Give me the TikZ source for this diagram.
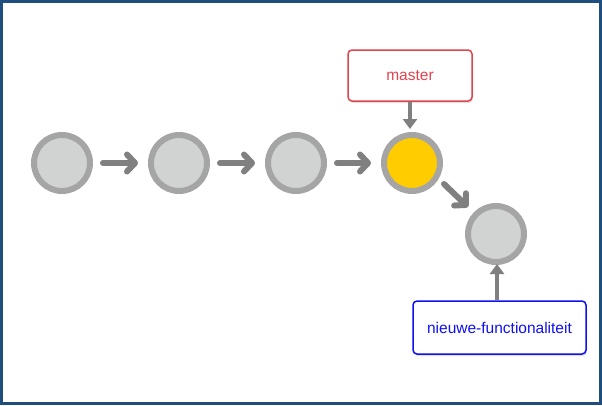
\documentclass[tikz,border=0pt]{standalone}
\usepackage{fontspec}
\setmainfont{Liberation Sans}
\usetikzlibrary{arrows.meta,shadows}
\definecolor{frame}{HTML}{1F4E7E}
\definecolor{cfill}{HTML}{D1D3D3}
\definecolor{cline}{HTML}{A5A5A5}
\definecolor{arr}{HTML}{808080}
\definecolor{gold}{HTML}{FFCC00}
\definecolor{mred}{HTML}{E0444F}
\definecolor{mblue}{HTML}{1010F0}
\begin{document}
\begin{tikzpicture}[x=1pt,y=-1pt,
  commit/.style={circle,draw=cline,line width=6pt,fill=cfill,minimum size=56pt,inner sep=0pt},
  chev/.style={draw=arr,line width=6pt,line cap=round,-{Straight Barb[length=8pt,width=17pt,line cap=round,line join=round]}},
  tri/.style={draw=arr,line width=4pt,-{Triangle[length=10pt,width=14pt]}},
  label/.style={rounded corners=4pt,line width=1.5pt,fill=white,font=\fontsize{15.5}{18}\selectfont,
    drop shadow={shadow xshift=1pt,shadow yshift=-2pt,opacity=0.25}}]
\fill[frame] (0,0) rectangle (602,405);
\fill[white] (3,3) rectangle (599,402);
\useasboundingbox (0,0) rectangle (602,405);
\node[commit] (c1) at (62,163) {};
\node[commit] (c2) at (179,163) {};
\node[commit] (c3) at (296,163) {};
\node[commit,fill=gold] (c4) at (412,163) {};
\node[commit] (c5) at (496,234) {};
\draw[chev] ([xshift=10pt]c1.east) -- ([xshift=-10pt]c2.west);
\draw[chev] ([xshift=10pt]c2.east) -- ([xshift=-10pt]c3.west);
\draw[chev] ([xshift=10pt]c3.east) -- ([xshift=-10pt]c4.west);
\coordinate (d1) at (444,184);
\coordinate (d2) at (468,207);
\draw[chev] (d1) -- (d2);
\node[label,draw=mred,text=mred,minimum width=124pt,minimum height=51pt] (m) at (410,75.5) {master};
\node[label,draw=mblue,text=mblue,minimum width=173pt,minimum height=53pt] (n) at (499.5,327.5) {nieuwe-functionaliteit};
\coordinate (mt) at (410,129);
\coordinate (nt) at (497,264);
\draw[tri] (m.south) -- (mt);
\draw[tri] (n.north -| nt) -- (nt);
\end{tikzpicture}
\end{document}
